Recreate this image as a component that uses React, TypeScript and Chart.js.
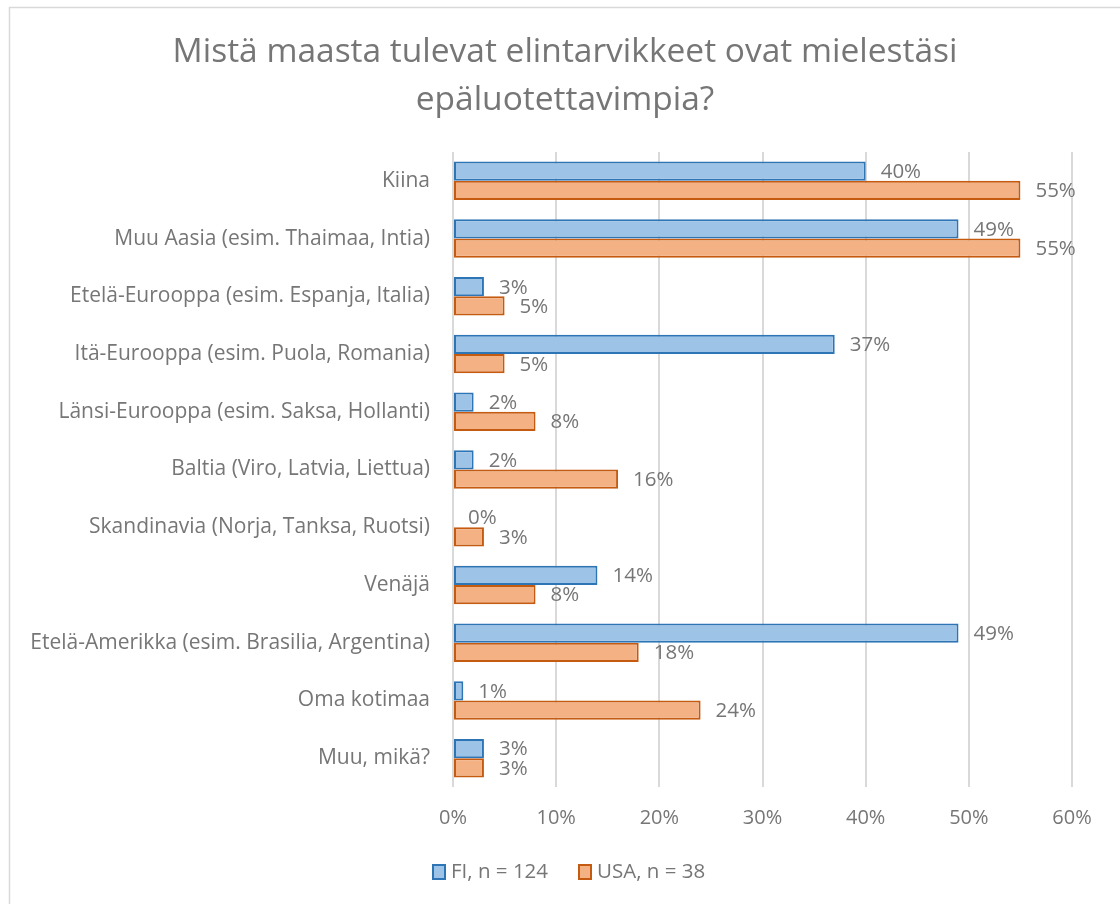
import React, { useEffect, useRef } from "react";
import { Chart, registerables } from "chart.js";

Chart.register(...registerables);

const categories = [
  "Kiina",
  "Muu Aasia (esim. Thaimaa, Intia)",
  "Etelä-Eurooppa (esim. Espanja, Italia)",
  "Itä-Eurooppa (esim. Puola, Romania)",
  "Länsi-Eurooppa (esim. Saksa, Hollanti)",
  "Baltia (Viro, Latvia, Liettua)",
  "Skandinavia (Norja, Tanksa, Ruotsi)",
  "Venäjä",
  "Etelä-Amerikka (esim. Brasilia, Argentina)",
  "Oma kotimaa",
  "Muu, mikä?",
];
const fiValues = [40, 49, 3, 37, 2, 2, 0, 14, 49, 1, 3];
const usaValues = [55, 55, 5, 5, 8, 16, 3, 8, 18, 24, 3];
const seriesNames = ["FI, n = 124", "USA, n = 38"];
const titleLines = ["Mistä maasta tulevat elintarvikkeet ovat mielestäsi", "epäluotettavimpia?"];

const FONT = "'Open Sans', 'Noto Sans', sans-serif";
const TEXT = "#767676";

export default function App() {
  const ref = useRef<HTMLCanvasElement | null>(null);
  useEffect(() => {
    const canvas = ref.current;
    if (!canvas) return;
    const overlay = {
      id: "overlay",
      beforeDraw(chart: any) {
        const ctx = chart.ctx;
        ctx.save();
        ctx.fillStyle = "#ffffff";
        ctx.fillRect(0, 0, chart.width, chart.height);
        ctx.strokeStyle = "#d9d9d9";
        ctx.lineWidth = 1.5;
        ctx.strokeRect(9.5, 7.5, chart.width + 20, chart.height + 20);
        ctx.restore();
      },
      afterDraw(chart: any) {
        const ctx = chart.ctx;
        ctx.save();
        // title
        ctx.fillStyle = TEXT;
        ctx.font = `33.5px ${FONT}`;
        ctx.textAlign = "center";
        ctx.textBaseline = "middle";
        titleLines.forEach((l, i) => ctx.fillText(l, 565, 52 + i * 48));
        // data labels
        ctx.font = `20.5px ${FONT}`;
        ctx.textAlign = "left";
        chart.data.datasets.forEach((ds: any, di: number) => {
          const meta = chart.getDatasetMeta(di);
          meta.data.forEach((el: any, i: number) => {
            ctx.fillText(ds.data[i] + "%", el.x + 15, el.y + 1);
          });
        });
        // legend
        const items = [
          { x: 433, ds: chart.data.datasets[0] },
          { x: 579, ds: chart.data.datasets[1] },
        ];
        items.forEach((it) => {
          ctx.fillStyle = it.ds.backgroundColor;
          ctx.strokeStyle = it.ds.borderColor;
          ctx.lineWidth = 2;
          ctx.fillRect(it.x, 865, 12, 14);
          ctx.strokeRect(it.x, 865, 12, 14);
          ctx.fillStyle = TEXT;
          ctx.textBaseline = "middle";
          ctx.fillText(it.ds.label, it.x + 18, 872);
        });
        ctx.restore();
      },
    };
    const chart = new Chart(canvas, {
      type: "bar",
      data: {
        labels: categories,
        datasets: [
          {
            label: seriesNames[0],
            data: fiValues,
            backgroundColor: "#9dc3e6",
            borderColor: "#2e75b6",
            borderWidth: 2,
            borderSkipped: false,
          },
          {
            label: seriesNames[1],
            data: usaValues,
            backgroundColor: "#f4b183",
            borderColor: "#c55a11",
            borderWidth: 2,
            borderSkipped: false,
          },
        ],
      },
      options: {
        indexAxis: "y",
        responsive: false,
        animation: false,
        datasets: { bar: { categoryPercentage: 0.667, barPercentage: 1 } },
        layout: { padding: { top: 152, right: 48, left: 0, bottom: 0 } },
        plugins: { legend: { display: false }, title: { display: false }, tooltip: { enabled: false } },
        scales: {
          x: {
            min: 0,
            max: 60,
            ticks: {
              stepSize: 10,
              callback: (v: any) => v + "%",
              color: TEXT,
              font: { family: FONT, size: 20 },
              padding: 19,
            },
            grid: { color: "#d9d9d9", lineWidth: 2, drawTicks: false },
            border: { display: false },
            afterFit: (s: any) => {
              s.height = 117;
            },
          },
          y: {
            ticks: { color: TEXT, font: { family: FONT, size: 21 }, padding: 23 },
            grid: { display: false, drawTicks: false },
            border: { display: false },
            afterFit: (s: any) => {
              s.width = 453;
            },
          },
        },
      },
      plugins: [overlay],
    });
    return () => chart.destroy();
  }, []);
  return (
    <div style={{ position: "absolute", left: 0, top: 0, width: 1120, height: 904 }}>
      <canvas ref={ref} width={1120} height={904} />
    </div>
  );
}
